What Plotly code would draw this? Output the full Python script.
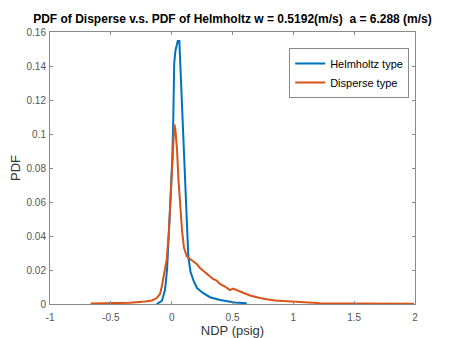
import plotly.graph_objects as go

helm_x = [-0.123, -0.080, -0.055, -0.038, -0.022, -0.006, 0.005, 0.013, 0.021, 0.031, 0.050, 0.063,
          0.073, 0.082, 0.093, 0.104, 0.122, 0.137, 0.155, 0.178, 0.208, 0.257, 0.315, 0.397, 0.520, 0.617]
helm_y = [0.0, 0.0018, 0.0082, 0.020, 0.0435, 0.067, 0.0847, 0.108, 0.1416, 0.149, 0.1547, 0.1547,
          0.138, 0.122, 0.102, 0.079, 0.049, 0.0276, 0.019, 0.014, 0.0094, 0.0065, 0.004, 0.0024, 0.0009, 0.0004]

disp_x = [-0.666, -0.507, -0.342, -0.219, -0.162, -0.123, -0.096, -0.082, -0.067, -0.041, -0.022, -0.006,
          0.007, 0.015, 0.022, 0.031, 0.044, 0.056, 0.068, 0.085, 0.101, 0.124, 0.151, 0.175, 0.206,
          0.233, 0.274, 0.307, 0.340, 0.370, 0.397, 0.438, 0.479, 0.504, 0.537, 0.578, 0.644, 0.710,
          0.767, 0.849, 0.973, 1.071, 1.219, 1.466, 1.712, 1.992]
disp_y = [0.0003, 0.0004, 0.0007, 0.0015, 0.0021, 0.0035, 0.0059, 0.010, 0.0159, 0.0259, 0.0435, 0.067,
          0.0906, 0.1024, 0.1057, 0.1024, 0.0906, 0.073, 0.058, 0.0435, 0.033, 0.0282, 0.0265, 0.0253, 0.0235,
          0.0212, 0.0188, 0.0165, 0.0147, 0.0138, 0.0118, 0.0103, 0.0082, 0.0091, 0.0082, 0.0068, 0.005, 0.0038,
          0.0029, 0.0021, 0.0015, 0.0008, 0.0005, 0.0003, 0.0002, 0.0002]

x_ticks = [-1, -0.5, 0, 0.5, 1, 1.5, 2]
x_tick_labels = ["-1", "-0.5", "0", "0.5", "1", "1.5", "2"]
y_ticks = [0, 0.02, 0.04, 0.06, 0.08, 0.1, 0.12, 0.14, 0.16]
y_tick_labels = ["0", "0.02", "0.04", "0.06", "0.08", "0.1", "0.12", "0.14", "0.16"]

FONT = "Arial, Liberation Sans, sans-serif"

fig = go.Figure()
fig.add_trace(go.Scatter(x=helm_x, y=helm_y, mode="lines", name="Helmholtz type",
                         line=dict(color="#0072BD", width=2)))
fig.add_trace(go.Scatter(x=disp_x, y=disp_y, mode="lines", name="Disperse type",
                         line=dict(color="#D95319", width=2)))

axis_common = dict(showline=True, linecolor="#8a8a8a", linewidth=1, mirror="ticks",
                   ticks="inside", ticklen=3, tickcolor="#8a8a8a", showgrid=False, zeroline=False,
                   automargin=False,
                   tickfont=dict(family=FONT, size=10, color="#555555"))

# page has an 8px body margin, so the figure is sized to fit the 449x338 window
fig.update_layout(
    width=441, height=330,
    margin=dict(l=42, r=34, t=24, b=34),
    paper_bgcolor="white", plot_bgcolor="white",
    title=dict(text="<b>PDF of Disperse v.s. PDF of Helmholtz w = 0.5192(m/s)  a = 6.288 (m/s)</b>",
               xref="paper", x=0.5, xanchor="center", y=0.966, yanchor="middle",
               font=dict(family=FONT, size=12, color="#000000")),
    xaxis=dict(range=[-1, 2], tickvals=x_ticks, ticktext=x_tick_labels, ticklabelstandoff=4,
               title=dict(text="NDP (psig)", standoff=6,
                          font=dict(family=FONT, size=13, color="#333333")),
               **axis_common),
    yaxis=dict(range=[0, 0.16], tickvals=y_ticks, ticktext=y_tick_labels, ticklabelstandoff=1,
               title=dict(text="PDF", standoff=8,
                          font=dict(family=FONT, size=13, color="#333333")),
               **axis_common),
    legend=dict(x=0.984, y=0.941, xanchor="right", yanchor="top",
                bordercolor="#8a8a8a", borderwidth=1, bgcolor="white",
                font=dict(family=FONT, size=11, color="#000000"),
                tracegroupgap=0, itemwidth=30),
    showlegend=True,
)

fig.write_html("out.html")
